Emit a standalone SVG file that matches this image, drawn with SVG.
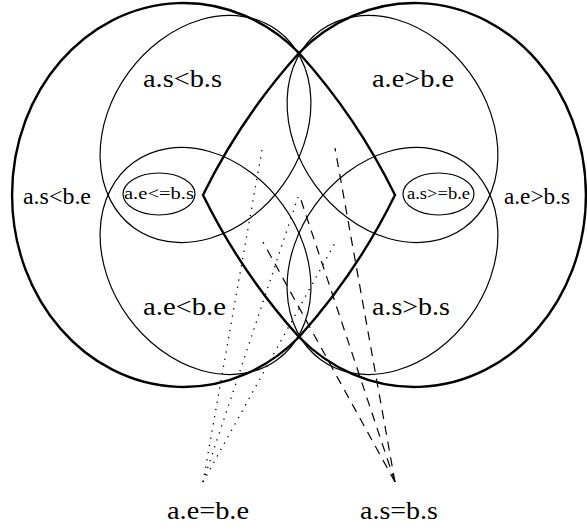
<svg xmlns="http://www.w3.org/2000/svg" width="587" height="529" viewBox="0 0 587 529">
<style>
.thick{fill:none;stroke:#000;stroke-width:2.4;stroke-linejoin:miter}
.thin{fill:none;stroke:#000;stroke-width:1.2}
.dot{fill:none;stroke:#000;stroke-width:1.3;stroke-dasharray:1.3,6}
.dash{fill:none;stroke:#000;stroke-width:1.2;stroke-dasharray:9,7}
text{font-family:"Liberation Serif","Times New Roman",serif;fill:#000}
.big{font-size:26px}
.mid{font-size:23px}
.small{font-size:16px}
</style>
<rect width="587" height="529" fill="#fff"/>
<g id="big-left">
<path class="thick" d="M299,53 A171.5,192 0 1 0 299,337 Q356.9,272.7 395,195 Q356.9,117.3 299,53 Z"/>
<text class="mid" x="23" y="204" textLength="68" lengthAdjust="spacingAndGlyphs">a.s&lt;b.e</text>
</g>
<g id="big-right">
<path class="thick" d="M299,53 A171.5,192 0 1 1 299,337 Q241.1,272.7 203,195 Q241.1,117.3 299,53 Z"/>
<text class="mid" x="504" y="204" textLength="66" lengthAdjust="spacingAndGlyphs">a.e&gt;b.s</text>
</g>
<g id="as-lt-bs">
<ellipse class="thin" cx="205.5" cy="129" rx="122" ry="95.5" transform="rotate(-54 205.5 129)"/>
<text class="big" x="143" y="87" textLength="79" lengthAdjust="spacingAndGlyphs">a.s&lt;b.s</text>
</g>
<g id="ae-gt-be">
<ellipse class="thin" cx="392.5" cy="129" rx="122" ry="95.5" transform="rotate(54 392.5 129)"/>
<text class="big" x="372" y="87" textLength="82" lengthAdjust="spacingAndGlyphs">a.e&gt;b.e</text>
</g>
<g id="ae-lt-be">
<ellipse class="thin" cx="205.5" cy="261" rx="122" ry="95.5" transform="rotate(54 205.5 261)"/>
<text class="big" x="143" y="315" textLength="83" lengthAdjust="spacingAndGlyphs">a.e&lt;b.e</text>
</g>
<g id="as-gt-bs">
<ellipse class="thin" cx="392.5" cy="261" rx="122" ry="95.5" transform="rotate(-54 392.5 261)"/>
<text class="big" x="372" y="315" textLength="78" lengthAdjust="spacingAndGlyphs">a.s&gt;b.s</text>
</g>
<g id="ae-le-bs">
<ellipse class="thin" cx="159" cy="194" rx="36" ry="21"/>
<text class="small" x="124" y="199" textLength="70" lengthAdjust="spacingAndGlyphs">a.e&lt;=b.s</text>
</g>
<g id="as-ge-be">
<ellipse class="thin" cx="438.5" cy="194" rx="35.5" ry="21"/>
<text class="small" x="407" y="199" textLength="63" lengthAdjust="spacingAndGlyphs">a.s&gt;=b.e</text>
</g>
<g id="ae-eq-be">
<text class="big" x="167" y="519" textLength="82" lengthAdjust="spacingAndGlyphs">a.e=b.e</text>
</g>
<g id="as-eq-bs">
<text class="big" x="360" y="519" textLength="78" lengthAdjust="spacingAndGlyphs">a.s=b.s</text>
</g>
<g id="connectors">
<line class="dot" x1="203" y1="482" x2="262" y2="150"/>
<line class="dot" x1="203" y1="482" x2="298" y2="197"/>
<line class="dot" x1="203" y1="482" x2="335" y2="243"/>
<line class="dash" x1="395" y1="482" x2="335" y2="148"/>
<line class="dash" x1="395" y1="482" x2="300" y2="197"/>
<line class="dash" x1="395" y1="482" x2="263" y2="242"/>
</g>
</svg>
